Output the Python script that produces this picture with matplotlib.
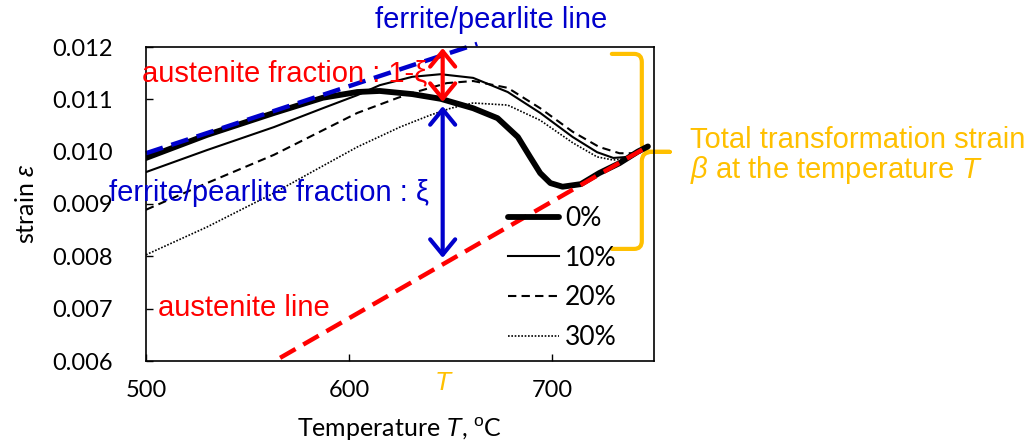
import numpy as np
import matplotlib.pyplot as plt
from matplotlib.path import Path
from matplotlib.patches import PathPatch

plt.rcParams['font.family'] = ['Lato', 'DejaVu Sans']
plt.rcParams['mathtext.fontset'] = 'custom'
plt.rcParams['mathtext.rm'] = 'Liberation Sans'
plt.rcParams['mathtext.it'] = 'Liberation Sans:italic'

# dilatometry curves, strain vs temperature for each pre-strain
T_0 = [500, 530, 563, 587, 604, 615, 631, 645, 661, 673, 683, 689, 694, 699, 705, 714, 723, 733, 742, 747]
eps_0 = [0.00988, 0.01032, 0.01074, 0.01103, 0.01114, 0.01116, 0.01110, 0.01101, 0.01083, 0.01064,
         0.01028, 0.00990, 0.00959, 0.00940, 0.00933, 0.00938, 0.00959, 0.00978, 0.01000, 0.01010]

T_10 = [500, 530, 563, 587, 604, 615, 631, 645, 661, 678, 694, 710, 722, 730, 737, 743]
eps_10 = [0.00961, 0.01003, 0.01047, 0.01083, 0.01108, 0.01127, 0.01143, 0.01148, 0.01141, 0.01114,
          0.01074, 0.01028, 0.00999, 0.00988, 0.00990, 0.01003]

T_20 = [500, 530, 563, 604, 624, 631, 648, 661, 678, 694, 710, 723, 733, 740]
eps_20 = [0.00889, 0.00940, 0.00994, 0.01074, 0.01103, 0.01112, 0.01131, 0.01135, 0.01122, 0.01083,
          0.01038, 0.01009, 0.00997, 0.00997]

T_30 = [500, 530, 563, 582, 604, 625, 640, 650, 661, 678, 694, 710, 722, 730, 738, 744]
eps_30 = [0.00803, 0.00856, 0.00921, 0.00962, 0.01009, 0.01047, 0.01070, 0.01083, 0.01093, 0.01089,
          0.01060, 0.01017, 0.00990, 0.00984, 0.00988, 0.01000]

labels = ['0%', '10%', '20%', '30%']

# reference lines
T_fp = [500, 663]
eps_fp = [0.00997, 0.01206]
T_aus = [566, 747]
eps_aus = [0.00606, 0.01010]

# fraction arrows at temperature T
T_arrow = 646
eps_top = 0.01198
eps_mid_hi = 0.01095
eps_mid_lo = 0.01087
eps_bottom = 0.00797

RED = '#FF0000'
BLUE = '#0000CC'
ORANGE = '#FFC000'
ann_font = 'Liberation Sans'

fig = plt.figure(figsize=(10.33, 4.46), dpi=100)
ax = fig.add_axes([146 / 1033, 85 / 446, 508 / 1033, 314 / 446])

kw = dict(color='black', solid_joinstyle='round', dash_joinstyle='round')
l0, = ax.plot(T_0, eps_0, lw=4.2, solid_capstyle='round', **kw)
l1, = ax.plot(T_10, eps_10, lw=1.5, **kw)
l2, = ax.plot(T_20, eps_20, lw=1.5, ls=(0, (4, 2.5)), **kw)
l3, = ax.plot(T_30, eps_30, lw=1.2, ls=(0, (1, 1)), **kw)

ax.plot(T_fp, eps_fp, color=BLUE, lw=3.2, ls=(0, (4, 2)), clip_on=False)
ax.plot(T_aus, eps_aus, color=RED, lw=3.2, ls=(0, (4, 2)), clip_on=False)

arrow = '<->,head_length=0.55,head_width=0.45'
ax.annotate('', xy=(T_arrow, eps_top), xytext=(T_arrow, eps_mid_hi),
            arrowprops=dict(arrowstyle=arrow, lw=3, color=RED, mutation_scale=20,
                            shrinkA=0, shrinkB=0), annotation_clip=False)
ax.annotate('', xy=(T_arrow, eps_mid_lo), xytext=(T_arrow, eps_bottom),
            arrowprops=dict(arrowstyle=arrow, lw=3, color=BLUE, mutation_scale=20,
                            shrinkA=0, shrinkB=0), annotation_clip=False)

ax.set_xlim(500, 750)
ax.set_ylim(0.006, 0.012)
ax.set_xticks([500, 600, 700])
ax.set_yticks(np.arange(0.006, 0.0121, 0.001))
ax.yaxis.set_major_formatter(plt.FormatStrFormatter('%.3f'))
ax.tick_params(direction='in', length=5, width=1, labelsize=17)
ax.tick_params(axis='y', pad=24)
ax.tick_params(axis='x', pad=14)
for s in ax.spines.values():
    s.set_linewidth(1.2)

ax.set_xlabel('Temperature $T$, $^{\\mathrm{o}}$C', fontsize=18, labelpad=10)
ax.set_ylabel('strain $\\varepsilon$', fontsize=18, labelpad=10)

ax.legend([l0, l1, l2, l3], labels, loc='upper left', bbox_to_anchor=(0.713, 0.493),
          frameon=False, fontsize=19, handlelength=1.93, handletextpad=0.23,
          labelspacing=0.55, borderpad=0, borderaxespad=0)

# annotations
ax.text(670, 0.01252, 'ferrite/pearlite line', color=BLUE, fontsize=21, family=ann_font,
        ha='center', va='center', clip_on=False)
ax.text(498, 0.01150, 'austenite fraction : 1-ξ', color=RED, fontsize=21, family=ann_font,
        ha='left', va='center', clip_on=False)
ax.text(482, 0.00921, 'ferrite/pearlite fraction : ξ', color=BLUE, fontsize=21, family=ann_font,
        ha='left', va='center', clip_on=False)
ax.text(506, 0.00701, 'austenite line', color=RED, fontsize=21, family=ann_font,
        ha='left', va='center', clip_on=False)
ax.text(T_arrow, 0.00558, 'T', color=ORANGE, fontsize=19, family=ann_font, style='italic',
        ha='center', va='center', clip_on=False)

fig.text(690 / 1033, 1 - 140 / 446, 'Total transformation strain', color=ORANGE, fontsize=21,
         family=ann_font, ha='left', va='center')
fig.text(690 / 1033, 1 - 170 / 446, '$\\beta$ at the temperature $T$', color=ORANGE, fontsize=21,
         family=ann_font, ha='left', va='center')

# curly bracket on the right side
verts = [(0.917, 0.978), (0.961, 0.978), (0.976, 0.978), (0.976, 0.952), (0.976, 0.694),
         (0.976, 0.666), (0.996, 0.666), (1.031, 0.666), (0.996, 0.666), (0.976, 0.666),
         (0.976, 0.637), (0.976, 0.382), (0.976, 0.357), (0.961, 0.357), (0.917, 0.357)]
codes = [Path.MOVETO, Path.LINETO, Path.CURVE3, Path.CURVE3, Path.LINETO,
         Path.CURVE3, Path.CURVE3, Path.LINETO, Path.LINETO, Path.CURVE3,
         Path.CURVE3, Path.LINETO, Path.CURVE3, Path.CURVE3, Path.LINETO]
brace = PathPatch(Path(verts, codes), transform=ax.transAxes, fill=False, edgecolor=ORANGE,
                  lw=3, capstyle='round', joinstyle='round', clip_on=False)
ax.add_patch(brace)

fig.savefig('out.png', dpi=100)
